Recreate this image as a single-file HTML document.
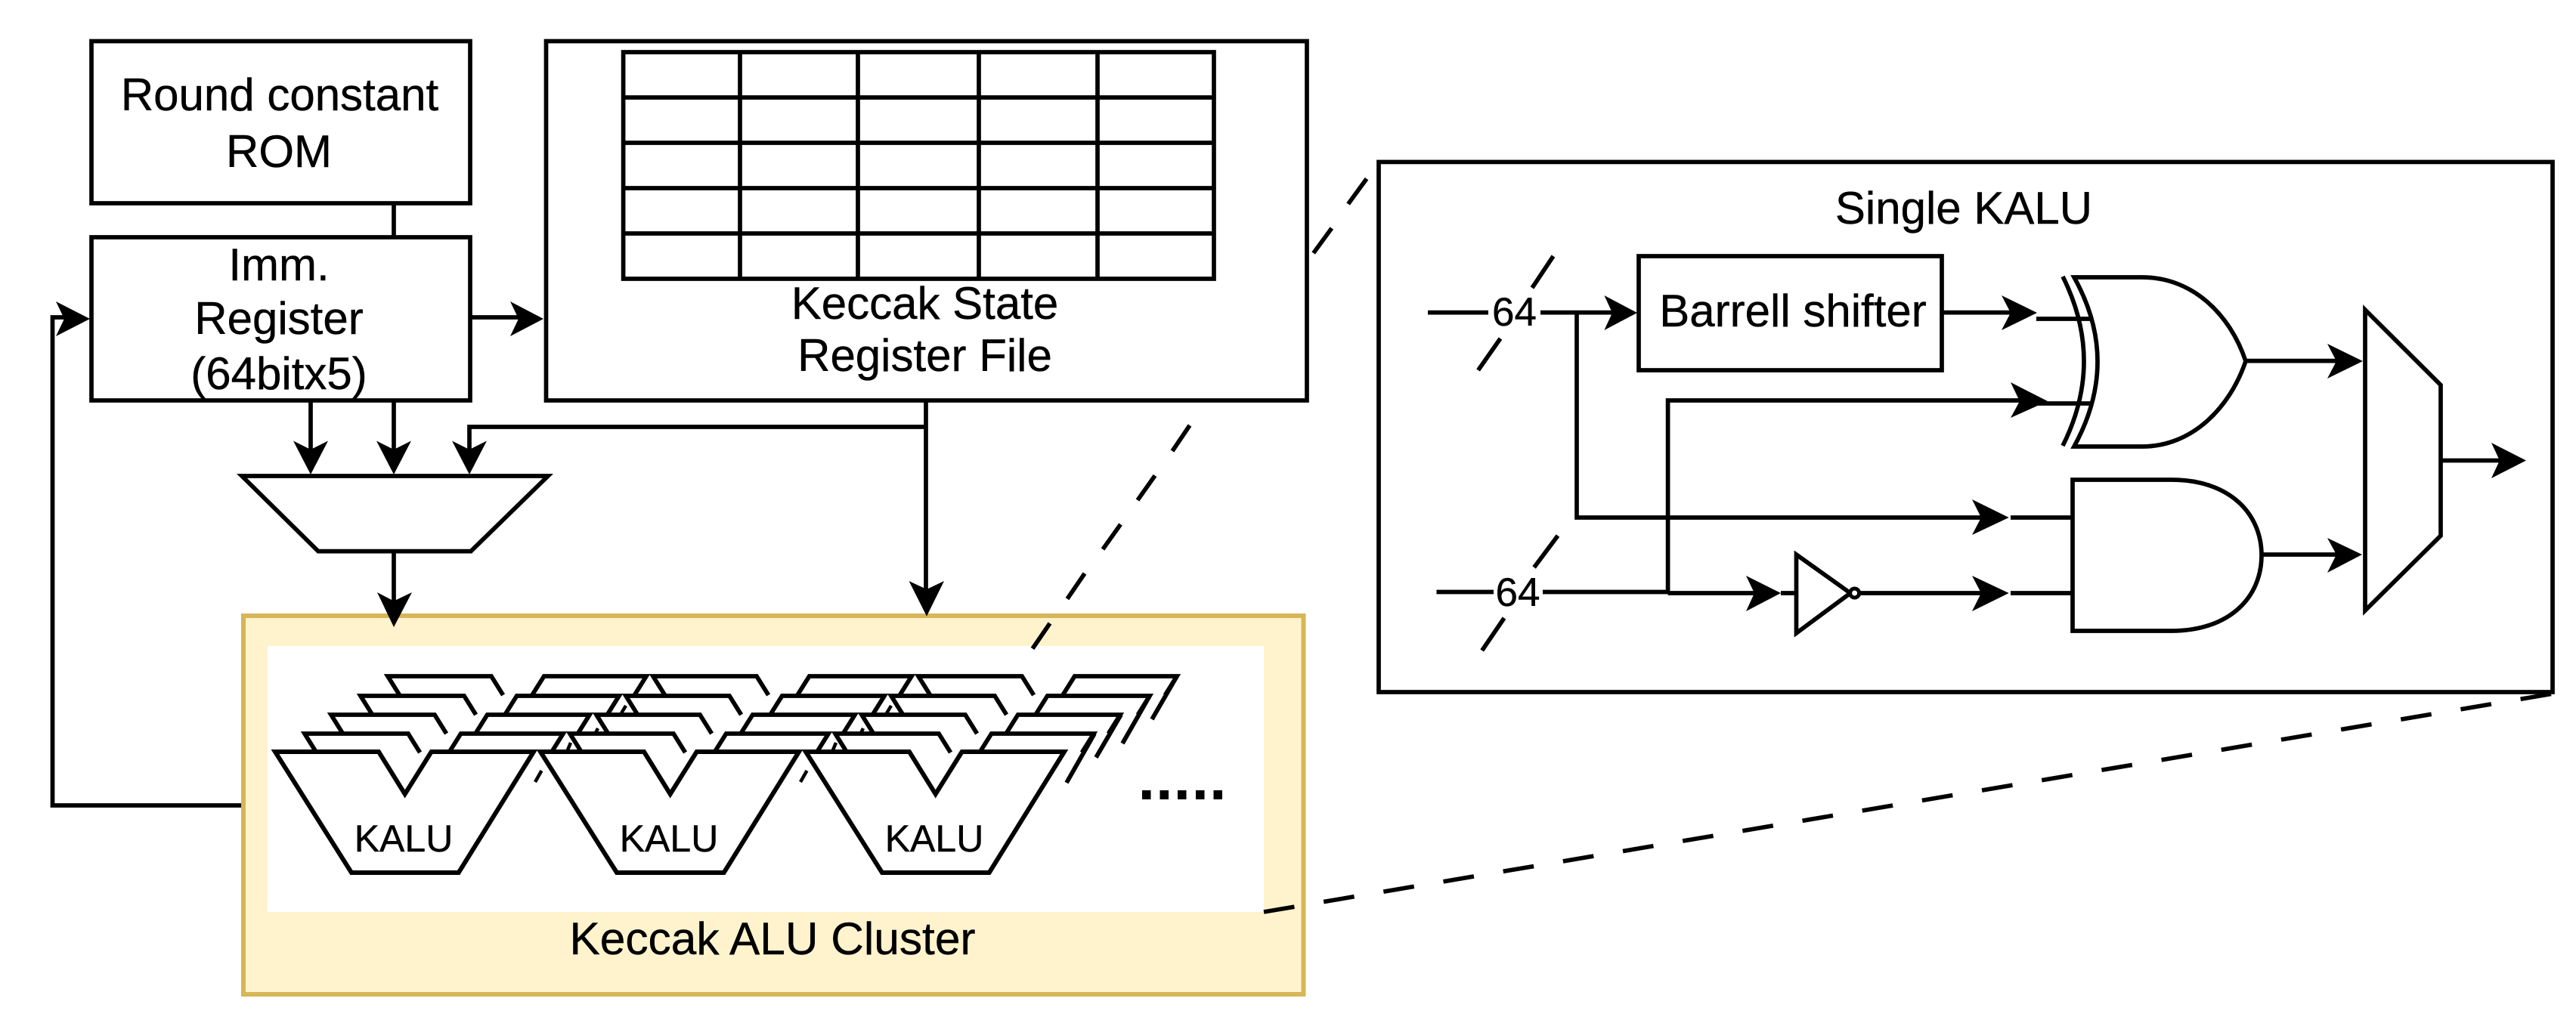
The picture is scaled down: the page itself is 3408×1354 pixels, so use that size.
<!DOCTYPE html>
<html lang="en">
<head>
<meta charset="utf-8">
<title>Keccak ALU diagram</title>
<style>
html,body{margin:0;padding:0;background:#fff;width:3408px;height:1354px;overflow:hidden}
svg{display:block}
text{font-family:"Liberation Sans",sans-serif;fill:#000;text-anchor:middle;font-size:60px;stroke:#000;stroke-width:.4}
.s{fill:none;stroke:#000;stroke-width:5.7}
.a{fill:#000;stroke:none}
.w{fill:#fff;stroke:none}
</style>
</head>
<body>
<svg width="3408" height="1354" viewBox="0 0 3408 1354" xmlns="http://www.w3.org/2000/svg">
<defs>
<path id="strip" d="M15.6 25L0 0H137L152.6 25M191 25L206.7 0H342L326.4 25"/>
<g id="stack">
  <use href="#strip" x="513" y="895"/>
  <use href="#strip" x="477" y="921"/>
  <use href="#strip" x="438" y="946"/>
  <use href="#strip" x="403" y="971"/>
  <path d="M364 995H501L535.7 1051L570.7 995H706L606.7 1155H465Z" stroke-width="6"/>
</g>
<g id="shards">
  <path d="M716.5 1020L708 1035M755 983L750 995M791 964L788 970M828 934L822 944" stroke-width="4.5"/>
</g>
</defs>

<!-- Round constant ROM -->
<text x="370" y="146">Round constant</text>
<text x="369" y="221">ROM</text>
<rect class="s" x="121" y="54.5" width="501" height="214.5"/>
<path class="s" d="M521 269V314"/>

<!-- Imm register -->
<text x="369" y="371">Imm.</text>
<text x="369" y="442">Register</text>
<text x="369" y="515">(64bitx5)</text>
<rect class="s" x="121" y="314" width="501" height="216"/>

<!-- Keccak state register file -->
<rect class="s" x="722.5" y="54.5" width="1006.5" height="475.5"/>
<rect class="s" x="824.6" y="69" width="781.4" height="300"/>
<path class="s" d="M824.6 129H1606M824.6 189H1606M824.6 249H1606M824.6 309H1606M979 69V369M1135 69V369M1295 69V369M1452 69V369"/>
<text x="1223.5" y="422">Keccak State</text>
<text x="1223.5" y="491">Register File</text>

<!-- feedback -->
<path class="s" d="M319 1066H69.5V420H100"/>
<polygon class="a" points="74,399 119,422 74,445 85,422"/>
<path class="s" d="M622 420H700"/>
<polygon class="a" points="675,399 719,422 675,445 686,422"/>

<!-- Arrows into mux -->
<path class="s" d="M411 530V600M521 530V600M1225 530V790M1225 565H621V600"/>
<polygon class="a" points="388,583.5 411,628 434,583.5 411,595"/>
<polygon class="a" points="498,583.5 521,628 544,583.5 521,595"/>
<polygon class="a" points="598,583.5 621,628 644,583.5 621,595"/>

<!-- Mux -->
<polygon class="s" points="320,630 725,630 623,729.6 421,729.6"/>
<path class="s" d="M521 730V800"/>

<!-- Cluster -->
<rect x="322" y="815" width="1402.5" height="501" fill="#fff3cd" stroke="#d6b656" stroke-width="6"/>
<rect class="w" x="354" y="855" width="1318" height="352"/>
<text x="1022" y="1263" style="font-size:60.4px">Keccak ALU Cluster</text>

<polygon class="a" points="499,784 521,830 545,784 521,795.5"/>
<polygon class="a" points="1202.5,769 1226,815.6 1249,769 1226,780"/>

<!-- KALU stacks -->
<g fill="none" stroke="#000" stroke-width="5.8">
  <use href="#stack"/>
  <use href="#stack" x="351"/>
  <use href="#stack" x="702"/>
  <use href="#shards"/>
  <use href="#shards" x="351"/>
  <path d="M1448 971L1411 1036M1483 946L1450 1002.5M1521 921L1485 984M1557 895L1524 952"/>
</g>
<text x="534" y="1127" style="font-size:50px">KALU</text>
<text x="885" y="1127" style="font-size:50px">KALU</text>
<text x="1236" y="1127" style="font-size:50px">KALU</text>
<path fill="#000" d="M1511 1046h11.5v12h-11.5zM1534.5 1046h11.5v12h-11.5zM1558 1046h11.5v12h-11.5zM1582 1046h11.5v12h-11.5zM1605.5 1046h11.5v12h-11.5z"/>

<!-- Dashed zoom lines -->
<path class="s" d="M1737.7 335L1761.8 302M1783.6 270L1808 236.6"/>
<path class="s" d="M1574 563L1551 597M1528 629.5L1505 662M1482.5 694L1459 727M1435 759L1412 792.6M1389 825L1366 858.5"/>
<path class="s" d="M1672 1207L3378 918" stroke-dasharray="41 39.3"/>

<!-- Single KALU -->
<rect class="s" x="1824" y="214.4" width="1553" height="701.6" stroke-width="6"/>
<text x="2598" y="296">Single KALU</text>

<rect class="s" x="2168" y="339" width="401" height="151"/>
<text x="2372" y="432">Barrell shifter</text>

<!-- inputs -->
<path class="s" d="M1889 413.6H2140"/>
<path class="s" d="M2055 339L2027 381M1985 448L1955.6 490"/>
<rect class="w" x="1969" y="385" width="69" height="55"/>
<text x="2003.5" y="431" style="font-size:53px">64</text>
<polygon class="a" points="2122.4,391 2166,414 2122.4,437 2133,414"/>

<path class="s" d="M1900.5 783.5H2206.6M2206.6 785H2330"/>
<path class="s" d="M2061 709L2029.6 751M1990 818L1960.7 861"/>
<rect class="w" x="1976" y="755" width="65" height="55"/>
<text x="2008" y="802" style="font-size:53px">64</text>
<polygon class="a" points="2310,762 2356,785 2310,809 2321,785"/>

<path class="s" d="M2086 413.6V685H2630M2206.6 785V530H2680"/>
<path class="s" d="M2569 413.6H2670"/>
<polygon class="a" points="2648,391 2695,414 2648,437 2660,414"/>
<polygon class="a" points="2660,506 2709,531 2660,553 2672,531"/>
<polygon class="a" points="2609,661 2657.7,685 2609,708 2621,685"/>
<path class="s" d="M2694 422H2765M2694 534H2765M2660 685H2742M2660 785H2742"/>

<!-- inverter -->
<path class="s" d="M2356 785H2376.5"/>
<polygon class="s" points="2376.5,734 2448,785 2376.5,838"/>
<circle cx="2453.6" cy="785" r="6" fill="#fff" stroke="#000" stroke-width="5"/>
<path class="s" d="M2460 785H2630"/>
<polygon class="a" points="2609,762 2657.7,785 2609,809 2621,785"/>

<!-- XOR -->
<path class="s" d="M2744 367H2834C2900 367 2950 415 2971 478C2950 540 2900 591 2834 591H2744Q2806 478 2744 367Z"/>
<path class="s" d="M2729 366Q2785 478 2729 590"/>
<path class="s" d="M2971 477.6H3100"/>
<polygon class="a" points="3079,455 3126,478 3079,501 3091,478"/>

<!-- AND -->
<path class="s" d="M2742 635H2873C2950 635 2992 680 2992 735C2992 790 2950 835 2873 835H2742Z"/>
<path class="s" d="M2992 734H3100"/>
<polygon class="a" points="3079,712 3125,734 3079,758 3091,734"/>

<!-- Output mux -->
<polygon class="s" points="3129,410 3229,509.6 3229,709 3129,808"/>
<path class="s" d="M3229 609.5H3315"/>
<polygon class="a" points="3296,586 3342,609.5 3296,633 3307,609.5"/>
</svg>
</body>
</html>
